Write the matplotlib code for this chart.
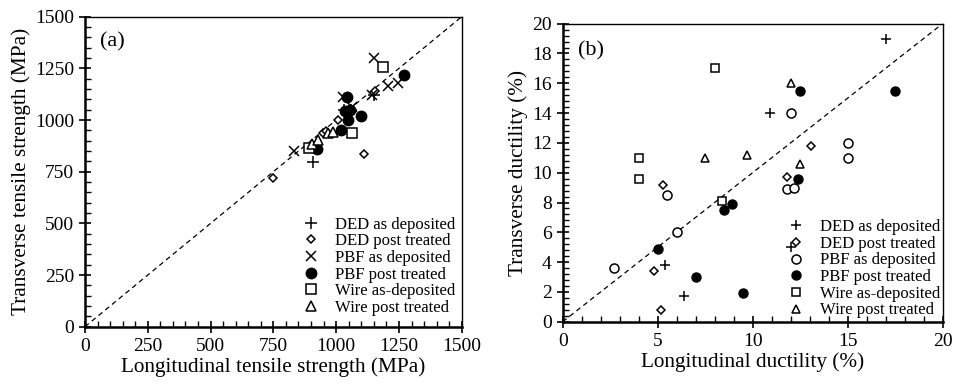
import matplotlib.pyplot as plt
from matplotlib.ticker import MultipleLocator

plt.rcParams['font.family'] = ['Liberation Serif', 'DejaVu Serif']

# panel (a): tensile strength (MPa), longitudinal vs transverse
a_ded_dep_x = [909, 1030, 1150, 1060]
a_ded_dep_y = [795, 1050, 1120, 1050]
a_ded_pt_x = [750, 1112, 1009, 949, 1155, 960]
a_ded_pt_y = [718, 834, 1000, 935, 1142, 945]
a_pbf_dep_x = [1151, 832, 1208, 1248, 1142, 1029, 1062]
a_pbf_dep_y = [1298, 852, 1166, 1177, 1121, 1113, 1065]
a_pbf_pt_x = [1271, 1042, 1099, 1018, 1049, 923, 1035, 1055]
a_pbf_pt_y = [1218, 1113, 1021, 952, 1000, 860, 1044, 1048]
a_wire_dep_x = [1188, 1062, 893]
a_wire_dep_y = [1258, 935, 866]
a_wire_pt_x = [902, 929, 969, 989]
a_wire_pt_y = [884, 903, 935, 940]

# panel (b): ductility (%), longitudinal vs transverse
b_ded_dep_x = [5.4, 6.4, 10.9, 17.0, 12.0]
b_ded_dep_y = [3.8, 1.7, 14.0, 19.0, 5.0]
b_ded_pt_x = [5.3, 4.8, 5.2, 13.05, 11.8]
b_ded_pt_y = [9.2, 3.4, 0.8, 11.8, 9.7]
b_pbf_dep_x = [5.5, 6.0, 2.7, 12.0, 15.0, 15.0, 11.8, 12.2]
b_pbf_dep_y = [8.5, 6.0, 3.6, 14.0, 12.0, 11.0, 8.9, 9.0]
b_pbf_pt_x = [5.0, 7.0, 12.5, 17.5, 12.4, 8.5, 8.9, 9.5]
b_pbf_pt_y = [4.9, 3.0, 15.5, 15.5, 9.6, 7.5, 7.9, 1.9]
b_wire_dep_x = [4.0, 4.0, 8.0, 8.4]
b_wire_dep_y = [11.0, 9.6, 17.0, 8.1]
b_wire_pt_x = [7.5, 9.7, 12.0, 12.5]
b_wire_pt_y = [11.0, 11.2, 16.0, 10.6]

labels = ['DED as deposited', 'DED post treated', 'PBF as deposited',
          'PBF post treated', 'Wire as-deposited', 'Wire post treated']

fig = plt.figure(figsize=(9.54, 3.87), dpi=100)
ax1 = fig.add_axes([0.0891, 0.1558, 0.3949, 0.801])
ax2 = fig.add_axes([0.5898, 0.1687, 0.3982, 0.7701])

mew = 1.1
ax1.plot([0, 1500], [0, 1500], 'k--', lw=0.9, dashes=(4, 3), zorder=1)
ax1.plot(a_ded_dep_x, a_ded_dep_y, '+', color='k', ms=8, mew=mew, ls='none', label=labels[0])
ax1.plot(a_ded_pt_x, a_ded_pt_y, 'D', mfc='white', mec='k', ms=4.5, mew=mew, ls='none', label=labels[1])
ax1.plot(a_pbf_dep_x, a_pbf_dep_y, 'x', color='k', ms=7, mew=mew, ls='none', label=labels[2])
ax1.plot(a_pbf_pt_x, a_pbf_pt_y, 'o', color='k', ms=7.5, ls='none', label=labels[3])
ax1.plot(a_wire_dep_x, a_wire_dep_y, 's', mfc='white', mec='k', ms=6.5, mew=mew, ls='none', label=labels[4])
ax1.plot(a_wire_pt_x, a_wire_pt_y, '^', mfc='white', mec='k', ms=6.5, mew=mew, ls='none', label=labels[5])

ax2.plot([0, 20], [0, 20], 'k--', lw=0.9, dashes=(4, 3), zorder=1)
ax2.plot(b_ded_dep_x, b_ded_dep_y, '+', color='k', ms=7, mew=mew, ls='none', label=labels[0])
ax2.plot(b_ded_pt_x, b_ded_pt_y, 'D', mfc='white', mec='k', ms=4, mew=mew, ls='none', label=labels[1])
ax2.plot(b_pbf_dep_x, b_pbf_dep_y, 'o', mfc='white', mec='k', ms=6.5, mew=mew, ls='none', label=labels[2])
ax2.plot(b_pbf_pt_x, b_pbf_pt_y, 'o', color='k', ms=6.5, ls='none', label=labels[3])
ax2.plot(b_wire_dep_x, b_wire_dep_y, 's', mfc='white', mec='k', ms=6, mew=mew, ls='none', label=labels[4])
ax2.plot(b_wire_pt_x, b_wire_pt_y, '^', mfc='white', mec='k', ms=6, mew=mew, ls='none', label=labels[5])

ax1.set_xlim(0, 1500)
ax1.set_ylim(0, 1500)
ax1.xaxis.set_major_locator(MultipleLocator(250))
ax1.yaxis.set_major_locator(MultipleLocator(250))
ax1.xaxis.set_minor_locator(MultipleLocator(50))
ax1.yaxis.set_minor_locator(MultipleLocator(50))
ax1.set_xlabel('Longitudinal tensile strength (MPa)', fontsize=15.3, labelpad=2)
ax1.set_ylabel('Transverse tensile strength (MPa)', fontsize=15.3, labelpad=3)
ax1.text(0.04, 0.95, '(a)', transform=ax1.transAxes, fontsize=16, va='top')

ax2.set_xlim(0, 20)
ax2.set_ylim(0, 20)
ax2.xaxis.set_major_locator(MultipleLocator(5))
ax2.yaxis.set_major_locator(MultipleLocator(2))
ax2.xaxis.set_minor_locator(MultipleLocator(1))
ax2.yaxis.set_minor_locator(MultipleLocator(0.4))
ax2.set_xlabel('Longitudinal ductility (%)', fontsize=15.3, labelpad=2)
ax2.set_ylabel('Transverse ductility (%)', fontsize=15.3, labelpad=3)
ax2.text(0.04, 0.94, '(b)', transform=ax2.transAxes, fontsize=16, va='top')

for ax in (ax1, ax2):
    ax.tick_params(which='major', direction='inout', length=8, width=1.2, labelsize=14, pad=4)
    ax.tick_params(which='minor', direction='in', length=4, width=1)
    ax.tick_params(top=False, right=False, which='both')
    for s in ax.spines.values():
        s.set_linewidth(1.0)
    ax.spines['left'].set_linewidth(1.8)
    ax.spines['bottom'].set_linewidth(1.8)

ax1.legend(loc='lower left', bbox_to_anchor=(0.573, 0.035), frameon=False, fontsize=12,
           handletextpad=0.84, labelspacing=0.04, borderpad=0, borderaxespad=0,
           handlelength=1.2)
ax2.legend(loc='lower left', bbox_to_anchor=(0.588, 0.011), frameon=False, fontsize=12,
           handletextpad=0.84, labelspacing=0.04, borderpad=0, borderaxespad=0,
           handlelength=1.2)

fig.savefig('out.png', dpi=100)
